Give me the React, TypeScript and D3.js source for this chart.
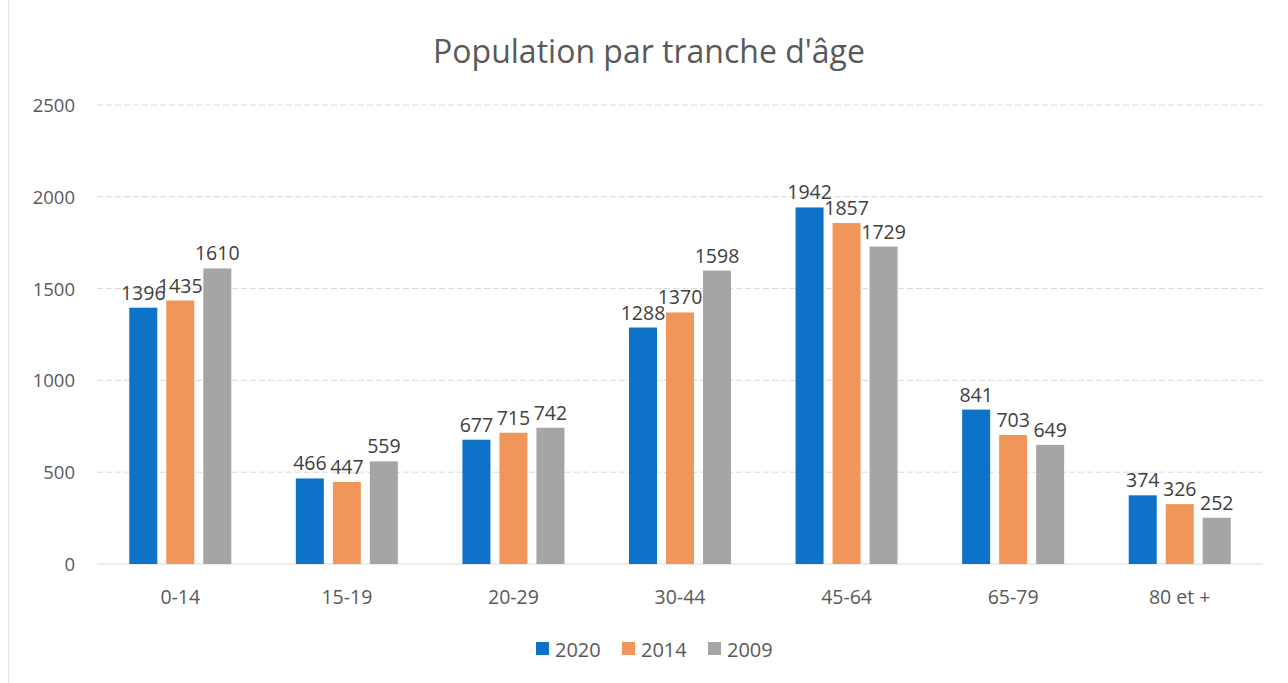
import React from "react";
import * as d3 from "d3";

const categories = ["0-14", "15-19", "20-29", "30-44", "45-64", "65-79", "80 et +"];
const seriesNames = ["2020", "2014", "2009"];
const values2020 = [1396, 466, 677, 1288, 1942, 841, 374];
const values2014 = [1435, 447, 715, 1370, 1857, 703, 326];
const values2009 = [1610, 559, 742, 1598, 1729, 649, 252];
const yTicks = [0, 500, 1000, 1500, 2000, 2500];
const colors = ["#0f72c9", "#f0965a", "#a5a5a5"];

const W = 1288, H = 683;
const left = 97, right = 1263, top = 105, bottom = 564;
const font = "'Open Sans', 'Noto Sans', sans-serif";
const textColor = "#595959";

export default function App() {
  const series = [values2020, values2014, values2009];
  const x = d3.scaleBand<string>().domain(categories).range([left, right]).padding(0);
  const y = d3.scaleLinear().domain([0, 2500]).range([bottom, top]);
  const bw = x.bandwidth();
  const barW = 28;
  const step = 37;
  return (
    <svg width={W} height={H} style={{ position: "absolute", left: 0, top: 0, background: "#fff" }}>
      <rect x={0} y={0} width={W} height={H} fill="#fff" />
      <line x1={8.5} y1={0} x2={8.5} y2={H} stroke="#e4e4e4" strokeWidth={1} />
      <text x={649} y={63} textAnchor="middle" fontFamily={font} fontSize={32} fill={textColor}>
        Population par tranche d'âge
      </text>
      {yTicks.map((t) => (
        <g key={t}>
          <line x1={left} x2={right} y1={y(t)} y2={y(t)} stroke="#d9d9d9" strokeWidth={1} strokeDasharray={t === 0 ? "none" : "6 3"} />
          <text x={75} y={y(t) + 7} textAnchor="end" fontFamily={font} fontSize={18.5} fill={textColor}>
            {t}
          </text>
        </g>
      ))}
      {categories.map((c, i) => {
        const cx = (x(c) as number) + bw / 2;
        return (
          <g key={c}>
            {series.map((s, j) => {
              const bx = cx + (j - 1) * step - barW / 2;
              const v = s[i];
              return (
                <g key={j}>
                  <rect x={bx} y={y(v)} width={barW} height={y(0) - y(v)} fill={colors[j]} />
                  <text x={bx + barW / 2} y={y(v) - 8} textAnchor="middle" fontFamily={font} fontSize={19.5} fill="#404040">
                    {v}
                  </text>
                </g>
              );
            })}
            <text x={cx} y={604} textAnchor="middle" fontFamily={font} fontSize={19.5} fill={textColor}>
              {c}
            </text>
          </g>
        );
      })}
      {seriesNames.map((n, j) => {
        const lx = 536 + j * 86;
        return (
          <g key={n}>
            <rect x={lx} y={642} width={13} height={13} fill={colors[j]} />
            <text x={lx + 19} y={657} fontFamily={font} fontSize={20} fill={textColor}>
              {n}
            </text>
          </g>
        );
      })}
    </svg>
  );
}
